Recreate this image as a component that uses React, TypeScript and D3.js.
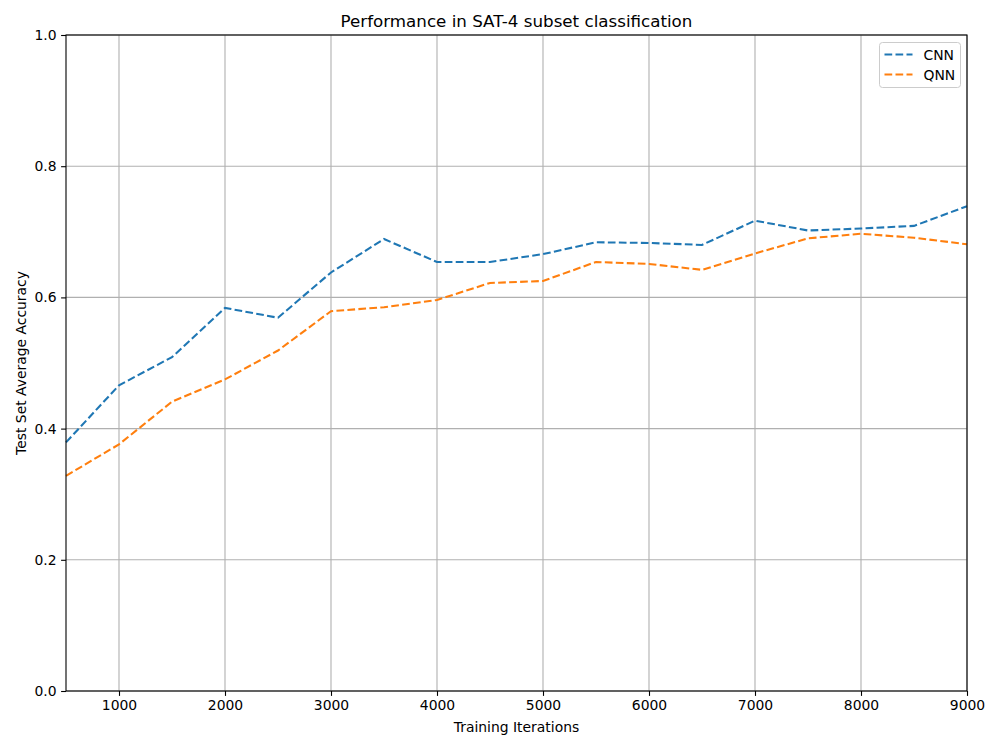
import React, { useEffect, useRef } from 'react';
import * as d3 from 'd3';

const iterations = [500, 1000, 1500, 2000, 2500, 3000, 3500, 4000, 4500, 5000, 5500, 6000, 6500, 7000, 7500, 8000, 8500, 9000];
const cnnAccuracy = [0.379, 0.466, 0.509, 0.584, 0.569, 0.638, 0.689, 0.654, 0.654, 0.666, 0.684, 0.683, 0.680, 0.717, 0.702, 0.705, 0.709, 0.739];
const qnnAccuracy = [0.328, 0.376, 0.441, 0.475, 0.519, 0.579, 0.585, 0.596, 0.622, 0.625, 0.654, 0.651, 0.642, 0.667, 0.690, 0.697, 0.691, 0.681];
const xTicks = [1000, 2000, 3000, 4000, 5000, 6000, 7000, 8000, 9000];
const yTicks = [0, 0.2, 0.4, 0.6, 0.8, 1.0];

const series = [
  { name: 'CNN', values: cnnAccuracy, color: '#1f77b4' },
  { name: 'QNN', values: qnnAccuracy, color: '#ff7f0e' },
];

const width = 1000;
const height = 750;
const font = 'DejaVu Sans, sans-serif';

const Chart: React.FC = () => {
  const svgRef = useRef<SVGSVGElement>(null);

  useEffect(() => {
    if (!svgRef.current) return;
    const svg = d3.select(svgRef.current);
    svg.selectAll('*').remove();

    const margin = { top: 35, right: 33, bottom: 59, left: 66 };
    const innerWidth = width - margin.left - margin.right;
    const innerHeight = height - margin.top - margin.bottom;

    svg.append('rect').attr('width', width).attr('height', height).attr('fill', '#fff');

    const g = svg.append('g').attr('transform', `translate(${margin.left},${margin.top})`);

    const xScale = d3.scaleLinear().domain([500, 9000]).range([0, innerWidth]);
    const yScale = d3.scaleLinear().domain([0, 1]).range([innerHeight, 0]);

    // Grid
    g.append('g')
      .selectAll('line')
      .data(xTicks)
      .join('line')
      .attr('x1', d => xScale(d))
      .attr('x2', d => xScale(d))
      .attr('y1', 0)
      .attr('y2', innerHeight)
      .attr('stroke', '#b0b0b0')
      .attr('stroke-width', 1.1);

    g.append('g')
      .selectAll('line')
      .data(yTicks)
      .join('line')
      .attr('x1', 0)
      .attr('x2', innerWidth)
      .attr('y1', d => yScale(d))
      .attr('y2', d => yScale(d))
      .attr('stroke', '#b0b0b0')
      .attr('stroke-width', 1.1);

    // Lines
    const line = d3
      .line<number>()
      .x((d, i) => xScale(iterations[i]))
      .y(d => yScale(d));

    series.forEach(s => {
      g.append('path')
        .datum(s.values)
        .attr('fill', 'none')
        .attr('stroke', s.color)
        .attr('stroke-width', 2.08)
        .attr('stroke-dasharray', '7.7 3.3')
        .attr('d', line);
    });

    // Axes
    const xAxis = g
      .append('g')
      .attr('transform', `translate(0,${innerHeight})`)
      .call(d3.axisBottom(xScale).tickValues(xTicks).tickSize(4.9).tickPadding(4.5).tickFormat(d3.format('d')));
    const yAxis = g
      .append('g')
      .call(d3.axisLeft(yScale).tickValues(yTicks).tickSize(4.9).tickPadding(4.5).tickFormat(d3.format('.1f')));

    [xAxis, yAxis].forEach(a => {
      a.select('.domain').remove();
      a.selectAll('line').attr('stroke', '#000').attr('stroke-width', 1.1);
      a.selectAll('text').attr('fill', '#000').style('font-family', font).style('font-size', '13.9px');
    });

    // Spines
    g.append('rect')
      .attr('width', innerWidth)
      .attr('height', innerHeight)
      .attr('fill', 'none')
      .attr('stroke', '#000')
      .attr('stroke-width', 1.1);

    // Title and labels
    svg.append('text')
      .attr('x', margin.left + innerWidth / 2)
      .attr('y', 27)
      .attr('text-anchor', 'middle')
      .style('font-family', font)
      .style('font-size', '16.7px')
      .text('Performance in SAT-4 subset classification');

    svg.append('text')
      .attr('x', margin.left + innerWidth / 2)
      .attr('y', 732)
      .attr('text-anchor', 'middle')
      .style('font-family', font)
      .style('font-size', '13.9px')
      .text('Training Iterations');

    svg.append('text')
      .attr('transform', `translate(26,${margin.top + innerHeight / 2}) rotate(-90)`)
      .attr('text-anchor', 'middle')
      .style('font-family', font)
      .style('font-size', '13.9px')
      .text('Test Set Average Accuracy');

    // Legend
    const legend = svg.append('g').attr('transform', `translate(879.5,42.5)`);
    legend.append('rect')
      .attr('width', 81)
      .attr('height', 45)
      .attr('rx', 3)
      .attr('fill', '#fff')
      .attr('fill-opacity', 0.8)
      .attr('stroke', '#cccccc')
      .attr('stroke-width', 1);

    series.forEach((s, i) => {
      const y = 12 + i * 20;
      legend.append('line')
        .attr('x1', 5)
        .attr('x2', 33)
        .attr('y1', y)
        .attr('y2', y)
        .attr('stroke', s.color)
        .attr('stroke-width', 2.08)
        .attr('stroke-dasharray', '7.7 3.3');
      legend.append('text')
        .attr('x', 44)
        .attr('y', y + 5)
        .style('font-family', font)
        .style('font-size', '13.9px')
        .text(s.name);
    });
  }, []);

  return <svg ref={svgRef} width={width} height={height} style={{ display: 'block' }} />;
};

export default function App() {
  return (
    <div style={{ position: 'absolute', left: 0, top: 0 }}>
      <Chart />
    </div>
  );
}
